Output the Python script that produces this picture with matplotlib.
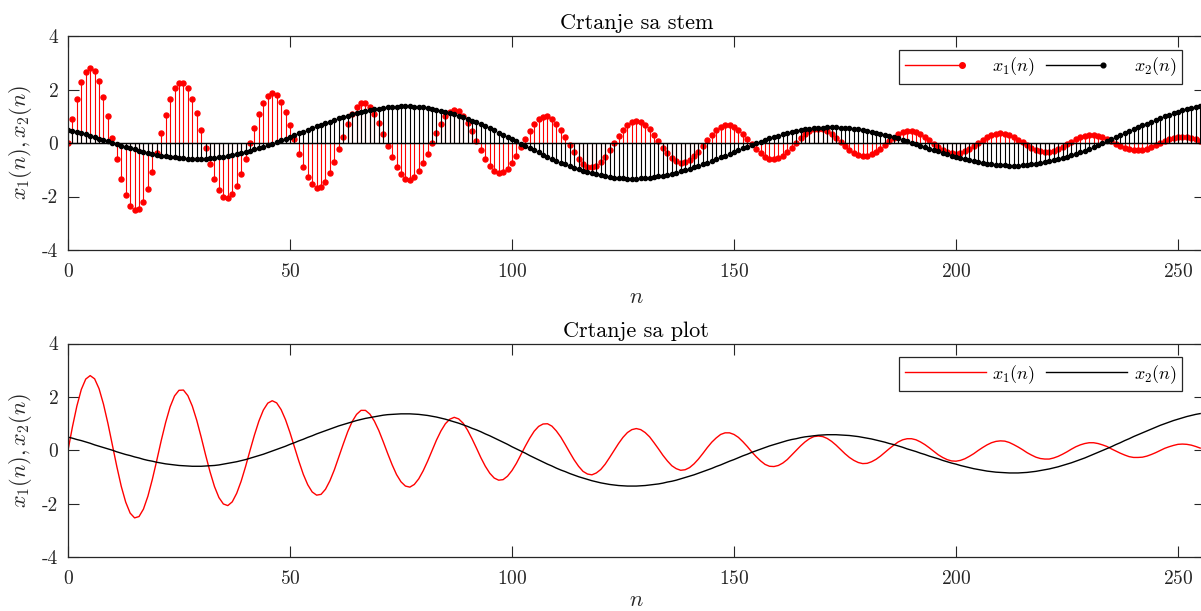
import numpy as np
import matplotlib
matplotlib.use("Agg")
import matplotlib.pyplot as plt
from matplotlib.lines import Line2D
from matplotlib.legend_handler import HandlerBase

# sample index n = 0..255
n = np.arange(256)

# x1(n): damped oscillation
x1 = [
    0.00, 0.88, 1.66, 2.28, 2.67, 2.80, 2.68, 2.31, 1.73, 1.01,
    0.20, -0.60, -1.34, -1.93, -2.34, -2.52, -2.47, -2.19, -1.71, -1.08,
    -0.37, 0.37, 1.05, 1.63, 2.04, 2.25, 2.26, 2.05, 1.66, 1.13,
    0.50, -0.17, -0.80, -1.35, -1.76, -2.00, -2.06, -1.92, -1.60, -1.15,
    -0.60, 0.00, 0.58, 1.10, 1.51, 1.77, 1.86, 1.78, 1.53, 1.15,
    0.67, 0.14, -0.40, -0.89, -1.28, -1.55, -1.67, -1.64, -1.45, -1.13,
    -0.72, -0.24, 0.24, 0.70, 1.08, 1.35, 1.50, 1.50, 1.36, 1.10,
    0.75, 0.33, -0.11, -0.53, -0.90, -1.17, -1.33, -1.37, -1.27, -1.06,
    -0.76, -0.40, 0.00, 0.39, 0.73, 1.00, 1.17, 1.24, 1.18, 1.02,
    0.76, 0.44, 0.09, -0.27, -0.59, -0.85, -1.03, -1.11, -1.09, -0.96,
    -0.75, -0.48, -0.16, 0.16, 0.46, 0.72, 0.90, 0.99, 1.00, 0.91,
    0.73, 0.50, 0.22, -0.07, -0.35, -0.59, -0.78, -0.88, -0.91, -0.84,
    -0.71, -0.51, -0.26, 0.00, 0.26, 0.49, 0.67, 0.78, 0.82, 0.78,
    0.67, 0.51, 0.29, 0.06, -0.18, -0.39, -0.57, -0.68, -0.74, -0.72,
    -0.64, -0.50, -0.32, -0.11, 0.11, 0.31, 0.47, 0.60, 0.66, 0.66,
    0.60, 0.49, 0.33, 0.15, -0.05, -0.23, -0.39, -0.52, -0.59, -0.60,
    -0.56, -0.47, -0.34, -0.17, 0.00, 0.17, 0.32, 0.44, 0.52, 0.54,
    0.52, 0.45, 0.34, 0.20, 0.04, -0.12, -0.26, -0.37, -0.45, -0.49,
    -0.48, -0.42, -0.33, -0.21, -0.07, 0.07, 0.20, 0.32, 0.40, 0.44,
    0.44, 0.40, 0.32, 0.22, 0.10, -0.03, -0.16, -0.26, -0.34, -0.39,
    -0.40, -0.37, -0.31, -0.22, -0.12, 0.00, 0.11, 0.21, 0.29, 0.34,
    0.36, 0.35, 0.30, 0.22, 0.13, 0.03, -0.08, -0.17, -0.25, -0.30,
    -0.32, -0.32, -0.28, -0.22, -0.14, -0.05, 0.05, 0.14, 0.21, 0.26,
    0.29, 0.29, 0.26, 0.21, 0.15, 0.06, -0.02, -0.10, -0.17, -0.23,
    -0.26, -0.26, -0.25, -0.21, -0.15, -0.08, 0.00, 0.08, 0.14, 0.19,
    0.23, 0.24, 0.23, 0.20, 0.15, 0.09,
]

# x2(n): slow wave
x2 = [
    0.50, 0.46, 0.41, 0.37, 0.32, 0.27, 0.21, 0.16, 0.11, 0.06,
    0.01, -0.05, -0.10, -0.15, -0.19, -0.24, -0.28, -0.33, -0.37, -0.40,
    -0.44, -0.47, -0.50, -0.52, -0.54, -0.56, -0.57, -0.58, -0.59, -0.59,
    -0.59, -0.58, -0.57, -0.56, -0.54, -0.51, -0.48, -0.45, -0.42, -0.38,
    -0.34, -0.29, -0.24, -0.19, -0.14, -0.08, -0.02, 0.04, 0.10, 0.16,
    0.23, 0.29, 0.36, 0.42, 0.49, 0.55, 0.62, 0.68, 0.74, 0.80,
    0.86, 0.92, 0.97, 1.02, 1.07, 1.12, 1.16, 1.20, 1.23, 1.26,
    1.29, 1.32, 1.34, 1.35, 1.36, 1.37, 1.37, 1.37, 1.36, 1.35,
    1.33, 1.31, 1.28, 1.25, 1.21, 1.17, 1.12, 1.07, 1.02, 0.96,
    0.90, 0.83, 0.77, 0.70, 0.62, 0.55, 0.47, 0.39, 0.31, 0.23,
    0.14, 0.06, -0.02, -0.10, -0.19, -0.27, -0.35, -0.43, -0.51, -0.58,
    -0.66, -0.73, -0.79, -0.86, -0.92, -0.98, -1.03, -1.08, -1.13, -1.17,
    -1.21, -1.24, -1.27, -1.29, -1.31, -1.32, -1.33, -1.33, -1.33, -1.32,
    -1.31, -1.29, -1.27, -1.25, -1.22, -1.18, -1.15, -1.11, -1.06, -1.01,
    -0.96, -0.91, -0.85, -0.79, -0.73, -0.67, -0.60, -0.54, -0.47, -0.40,
    -0.34, -0.27, -0.20, -0.14, -0.07, -0.01, 0.05, 0.11, 0.17, 0.22,
    0.27, 0.32, 0.37, 0.41, 0.44, 0.48, 0.51, 0.53, 0.55, 0.57,
    0.58, 0.59, 0.59, 0.59, 0.58, 0.57, 0.56, 0.54, 0.52, 0.49,
    0.46, 0.43, 0.39, 0.35, 0.31, 0.26, 0.22, 0.17, 0.12, 0.06,
    0.01, -0.04, -0.10, -0.15, -0.21, -0.26, -0.31, -0.37, -0.42, -0.47,
    -0.51, -0.56, -0.60, -0.64, -0.68, -0.71, -0.74, -0.77, -0.79, -0.81,
    -0.82, -0.83, -0.84, -0.84, -0.84, -0.83, -0.82, -0.80, -0.78, -0.75,
    -0.72, -0.69, -0.65, -0.61, -0.56, -0.51, -0.46, -0.40, -0.34, -0.28,
    -0.21, -0.14, -0.07, 0.00, 0.07, 0.14, 0.22, 0.29, 0.37, 0.44,
    0.52, 0.59, 0.66, 0.73, 0.80, 0.87, 0.94, 1.00, 1.06, 1.12,
    1.17, 1.22, 1.27, 1.31, 1.35, 1.38,
]

x_ticks = [0, 50, 100, 150, 200, 250]
y_ticks = [-4, -2, 0, 2, 4]
y_tick_labels = ["-4", "-2", "0", "2", "4"]
titles = ["Crtanje sa stem", "Crtanje sa plot"]
series_labels = [r"$x_1(n)$", r"$x_2(n)$"]

AXIS_COLOR = "#262626"


class StemLegendHandler(HandlerBase):
    """
    Legend icon like MATLAB's stem legend: a short line with a dot at its end
    """
    def create_artists(self, legend, orig_handle, xdescent, ydescent,
                       width, height, fontsize, trans):
        y = (height - ydescent) / 2
        x_end = -xdescent + 0.7 * width
        line = Line2D([-xdescent, x_end], [y, y],
                      color=orig_handle.get_color(),
                      linewidth=orig_handle.get_linewidth())
        dot = Line2D([x_end], [y], linestyle="none", marker="o",
                     color=orig_handle.get_color(),
                     markersize=orig_handle.get_markersize())
        line.set_transform(trans)
        dot.set_transform(trans)
        return [line, dot]


def style_axes(ax, title, xlabel_pad):
    """
    MATLAB-like box axes: ticks inside on all four sides
    """
    ax.set_xlim(0, 256)
    ax.set_ylim(-4, 4)
    ax.set_xticks(x_ticks)
    ax.set_yticks(y_ticks, y_tick_labels)
    ax.tick_params(axis="both", direction="in", length=8, width=0.8,
                   top=True, right=True, colors=AXIS_COLOR, labelsize=14)
    ax.tick_params(axis="x", pad=9)
    ax.tick_params(axis="y", pad=7)
    for spine in ax.spines.values():
        spine.set_color(AXIS_COLOR)
        spine.set_linewidth(0.9)
    ax.set_title(title, fontsize=16, pad=5)
    ax.set_xlabel(r"$n$", fontsize=16, labelpad=xlabel_pad, color=AXIS_COLOR)
    ax.set_ylabel(r"$x_1(n), x_2(n)$", fontsize=16, labelpad=6, color=AXIS_COLOR)


def add_legend(ax, handles, handler_map=None):
    leg = ax.legend(handles, series_labels, loc="upper right",
                    bbox_to_anchor=(0.980, 0.935), borderaxespad=0,
                    ncol=2, fontsize=13, handlelength=4.5,
                    handletextpad=0.35, columnspacing=0.6,
                    borderpad=0.3, fancybox=False, framealpha=1,
                    edgecolor=AXIS_COLOR, handler_map=handler_map)
    leg.get_frame().set_linewidth(0.9)
    return leg


def main():
    plt.rcParams["font.family"] = ["cmr10", "DejaVu Serif"]
    plt.rcParams["mathtext.fontset"] = "cm"
    plt.rcParams["axes.unicode_minus"] = False
    plt.rcParams["axes.formatter.use_mathtext"] = True

    fig = plt.figure(figsize=(12.01, 6.11), dpi=100)
    ax_top = fig.add_axes([0.0566, 0.5908, 0.9464, 0.3502])
    ax_bot = fig.add_axes([0.0566, 0.0876, 0.9464, 0.3502])

    # 1. stem plot
    markers1, stems1, base1 = ax_top.stem(n, x1, linefmt="r-", markerfmt="ro",
                                          basefmt="k-")
    markers1.set_markersize(3.6)
    stems1.set_linewidth(0.8)
    base1.set_linewidth(0.9)
    markers2, stems2, base2 = ax_top.stem(n, x2, linefmt="k-", markerfmt="ko",
                                          basefmt="k-")
    markers2.set_markersize(3.0)
    stems2.set_linewidth(0.8)
    base2.set_linewidth(0.9)
    style_axes(ax_top, titles[0], xlabel_pad=5)
    stem_handles = [
        Line2D([], [], color="r", linewidth=1.0, marker="o", markersize=4),
        Line2D([], [], color="k", linewidth=1.0, marker="o", markersize=3.4),
    ]
    add_legend(ax_top, stem_handles, handler_map={Line2D: StemLegendHandler()})

    # 2. ordinary line plot
    line1, = ax_bot.plot(n, x1, color="r", linewidth=1.0)
    line2, = ax_bot.plot(n, x2, color="k", linewidth=1.0)
    style_axes(ax_bot, titles[1], xlabel_pad=2)
    add_legend(ax_bot, [line1, line2])

    fig.savefig("out.png", dpi=100)


if __name__ == "__main__":
    main()
